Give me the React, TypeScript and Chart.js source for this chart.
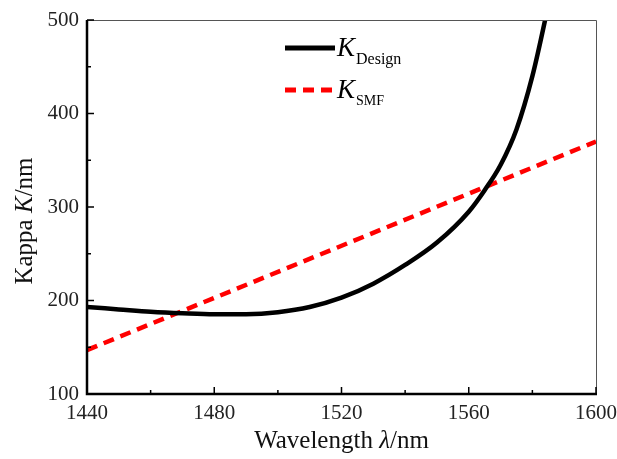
import React, { useEffect, useRef } from "react";
import { Chart, registerables } from "chart.js";

Chart.register(...registerables);

const designWavelengths = [1440, 1450, 1460, 1470, 1480, 1490, 1500, 1510, 1520, 1530, 1540, 1550, 1560, 1565, 1570, 1575, 1580, 1584, 1587];
const designKappa = [193, 190.5, 188, 186.3, 185.2, 185.3, 187.5, 193, 203, 218, 238, 262, 295, 318, 345, 383, 440, 500, 550];
const smfWavelengths = [1440, 1600];
const smfKappa = [147, 370];
const xMajorTicks = [1440, 1480, 1520, 1560, 1600];
const xMinorTicks = [1460, 1500, 1540, 1580];
const yMajorTicks = [100, 200, 300, 400, 500];
const yMinorTicks = [150, 250, 350, 450];

const SERIF = "'Liberation Serif', 'Times New Roman', serif";

const framePlugin = {
  id: "frame",
  afterDraw(chart: any) {
    const { ctx, chartArea: a, scales } = chart;
    const xs = scales.x;
    const ys = scales.y;
    ctx.save();
    ctx.strokeStyle = "#555";
    ctx.lineWidth = 1;
    ctx.beginPath();
    ctx.moveTo(a.left, a.top + 0.5);
    ctx.lineTo(a.right + 0.5, a.top + 0.5);
    ctx.lineTo(a.right + 0.5, a.bottom);
    ctx.stroke();
    ctx.strokeStyle = "#000";
    ctx.lineWidth = 1.5;
    ctx.beginPath();
    xMajorTicks.forEach((v) => {
      const p = xs.getPixelForValue(v);
      ctx.moveTo(p, a.bottom);
      ctx.lineTo(p, a.bottom - 7);
    });
    xMinorTicks.forEach((v) => {
      const p = xs.getPixelForValue(v);
      ctx.moveTo(p, a.bottom);
      ctx.lineTo(p, a.bottom - 4);
    });
    yMajorTicks.forEach((v) => {
      const p = ys.getPixelForValue(v);
      ctx.moveTo(a.left, p);
      ctx.lineTo(a.left + 7, p);
    });
    yMinorTicks.forEach((v) => {
      const p = ys.getPixelForValue(v);
      ctx.moveTo(a.left, p);
      ctx.lineTo(a.left + 4, p);
    });
    ctx.stroke();
    ctx.lineWidth = 2.5;
    ctx.beginPath();
    ctx.moveTo(a.left, a.top);
    ctx.lineTo(a.left, a.bottom);
    ctx.lineTo(a.right + 1, a.bottom);
    ctx.stroke();

    ctx.fillStyle = "#111";
    ctx.textBaseline = "alphabetic";
    const drawParts = (parts: [string, string][], x: number, y: number) => {
      let total = 0;
      parts.forEach(([t, f]) => {
        ctx.font = f;
        total += ctx.measureText(t).width;
      });
      let cx = x - total / 2;
      parts.forEach(([t, f]) => {
        ctx.font = f;
        ctx.textAlign = "left";
        ctx.fillText(t, cx, y);
        cx += ctx.measureText(t).width;
      });
    };
    const reg = `25px ${SERIF}`;
    const ita = `italic 25px ${SERIF}`;
    drawParts([["Wavelength ", reg], ["\u03bb", ita], ["/nm", reg]], (a.left + a.right) / 2, 448);
    ctx.save();
    ctx.translate(32, (a.top + a.bottom) / 2 + 14);
    ctx.rotate(-Math.PI / 2);
    drawParts([["Kappa ", reg], ["K", ita], ["/nm", reg]], 0, 0);
    ctx.restore();

    const lx0 = 285, lx1 = 335;
    ctx.lineCap = "butt";
    ctx.strokeStyle = "#000";
    ctx.lineWidth = 5;
    ctx.setLineDash([]);
    ctx.beginPath();
    ctx.moveTo(lx0, 48);
    ctx.lineTo(lx1, 48);
    ctx.stroke();
    ctx.strokeStyle = "#ff0000";
    ctx.setLineDash([11, 7]);
    ctx.beginPath();
    ctx.moveTo(lx0, 90);
    ctx.lineTo(lx1 + 2, 90);
    ctx.stroke();
    ctx.setLineDash([]);
    ctx.fillStyle = "#000";
    ctx.textAlign = "left";
    ctx.font = `italic 27px ${SERIF}`;
    ctx.fillText("K", 337, 56);
    ctx.fillText("K", 337, 98);
    ctx.font = `16px ${SERIF}`;
    ctx.fillText("Design", 356, 64);
    ctx.font = `14px ${SERIF}`;
    ctx.fillText("SMF", 356, 105);
    ctx.restore();
  },
};

export default function App() {
  const ref = useRef<HTMLCanvasElement | null>(null);
  useEffect(() => {
    const prevMargin = document.body.style.margin;
    document.body.style.margin = "0";
    const canvas = ref.current!;
    const chart = new Chart(canvas, {
      type: "line",
      data: {
        datasets: [
          {
            label: "K_Design",
            data: designWavelengths.map((x, i) => ({ x, y: designKappa[i] })),
            borderColor: "#000",
            borderWidth: 4.5,
            pointRadius: 0,
            cubicInterpolationMode: "monotone",
            fill: false,
          },
          {
            label: "K_SMF",
            data: smfWavelengths.map((x, i) => ({ x, y: smfKappa[i] })),
            borderColor: "#ff0000",
            borderWidth: 4.5,
            borderDash: [11, 7],
            pointRadius: 0,
            fill: false,
          },
        ],
      },
      options: {
        animation: false,
        responsive: false,
        maintainAspectRatio: false,
        layout: { padding: { left: 0, top: 20, right: 21, bottom: 0 } },
        plugins: { legend: { display: false }, tooltip: { enabled: false } },
        scales: {
          x: {
            type: "linear",
            min: 1440,
            max: 1600,
            afterFit: (s: any) => {
              s.height = 65;
              s.paddingLeft = 0;
              s.paddingRight = 0;
            },
            afterBuildTicks: (s: any) => {
              s.ticks = xMajorTicks.map((v) => ({ value: v }));
            },
            grid: { display: false, drawTicks: false },
            border: { display: false },
            ticks: {
              padding: 7,
              color: "#222",
              font: { family: SERIF, size: 21 },
              maxRotation: 0,
              callback: (v: any) => String(v),
            },
          },
          y: {
            type: "linear",
            min: 100,
            max: 500,
            afterFit: (s: any) => {
              s.width = 87;
              s.paddingTop = 0;
              s.paddingBottom = 0;
            },
            afterBuildTicks: (s: any) => {
              s.ticks = yMajorTicks.map((v) => ({ value: v }));
            },
            grid: { display: false, drawTicks: false },
            border: { display: false },
            ticks: {
              padding: 8,
              color: "#222",
              font: { family: SERIF, size: 21 },
              callback: (v: any) => String(v),
            },
          },
        },
      },
      plugins: [framePlugin],
    });
    return () => {
      chart.destroy();
      document.body.style.margin = prevMargin;
    };
  }, []);
  return (
    <div style={{ position: "absolute", left: 0, top: 0, width: 617, height: 459, background: "#fff" }}>
      <canvas ref={ref} width={617} height={459} style={{ display: "block", width: 617, height: 459 }} />
    </div>
  );
}
